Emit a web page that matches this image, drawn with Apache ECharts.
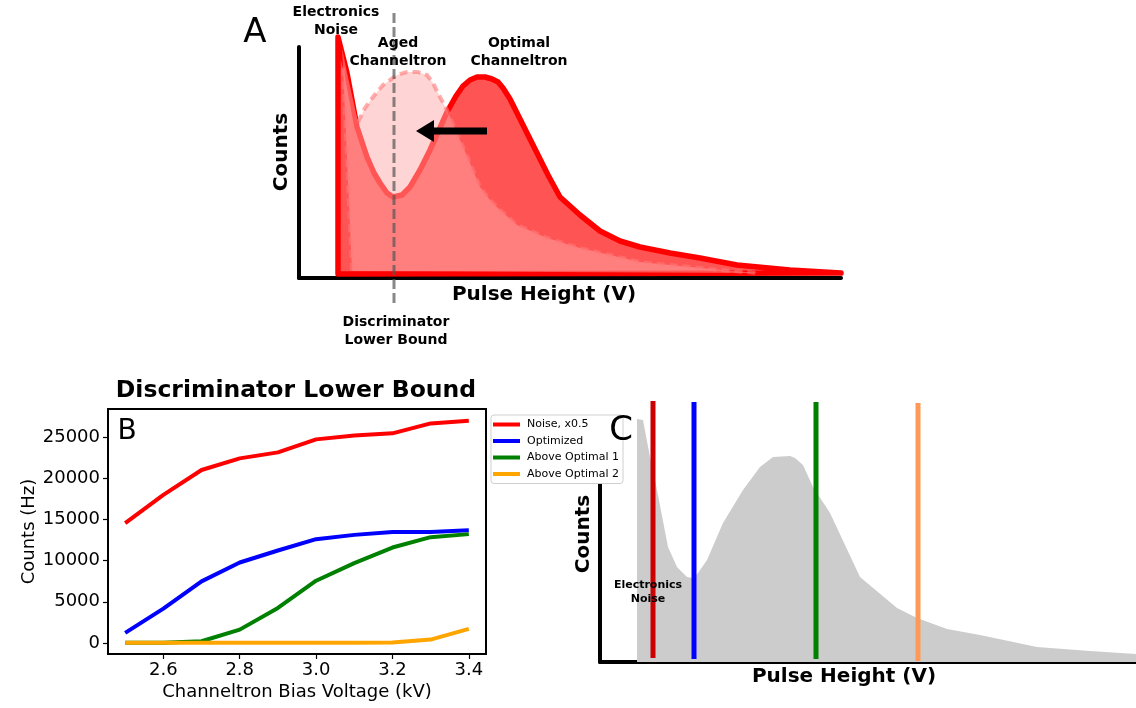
<!DOCTYPE html>
<html><head><meta charset="utf-8">
<script src="https://cdn.jsdelivr.net/npm/echarts@6/dist/echarts.min.js"></script>
<style>html,body{margin:0;padding:0;background:#fff}#c{width:1136px;height:708px}</style>
</head><body><div id="c"></div>
<script>
// ---------- Panel B data ----------
const biasVoltage = [2.5, 2.6, 2.7, 2.8, 2.9, 3.0, 3.1, 3.2, 3.3, 3.4];
const noiseHalf = [14560, 18000, 21030, 22450, 23180, 24760, 25240, 25490, 26700, 27020];
const optimized = [1210, 4160, 7480, 9780, 11240, 12620, 13140, 13500, 13500, 13710];
const aboveOptimal1 = [0, 0, 200, 1610, 4250, 7560, 9700, 11600, 12860, 13230];
const aboveOptimal2 = [0, 0, 0, 0, 0, 0, 0, 50, 400, 1700];
const seriesNames = ['Noise, x0.5', 'Optimized', 'Above Optimal 1', 'Above Optimal 2'];
const seriesColors = ['#ff0000', '#0000ff', '#008000', '#ffa500'];
const bXTicks = [2.6, 2.8, 3.0, 3.2, 3.4];
const bYTicks = [0, 5000, 10000, 15000, 20000, 25000];

// ---------- Panel A schematic spectra (arbitrary units) ----------
const optimalX = [39, 39, 48, 58, 68, 75, 81, 88, 94, 103, 111, 121, 131, 140, 148, 157, 164, 171, 178, 186, 193, 199, 204, 211, 218, 228, 238, 249, 261, 281, 301, 321, 341, 371, 401, 438, 491, 542];
const optimalY = [4, 241, 205, 151, 121, 105, 95, 85, 81, 83, 91, 108, 128, 148, 166, 182, 192, 198, 201, 201, 199, 196, 190, 179, 165, 145, 125, 103, 81, 63, 47, 37, 31, 25, 20, 13, 8, 5];
const agedX = [53, 44, 43, 48, 59, 66, 74, 84, 98, 108, 119, 128, 134, 141, 148, 161, 171, 181, 191, 201, 218, 248, 281, 311, 341, 381, 421, 461];
const agedY = [7, 211, 230, 205, 156, 170, 181, 193, 203, 206, 206, 203, 195, 181, 168, 138, 115, 91, 78, 68, 53, 40, 30, 23, 16, 12, 8, 5];
const discriminatorA = [95, 95];
const discriminatorAY = [265, -28];
const arrowFrom = [188, 147];
const arrowTo = [117, 147];

// ---------- Panel C data ----------
const spectrumX = [37, 37, 43, 50, 57, 68, 77, 87, 93, 98, 107, 123, 143, 160, 173, 190, 195, 203, 213, 230, 260, 297, 317, 347, 380, 437, 490, 536];
const spectrumY = [0, 243, 242, 205, 172, 115, 95, 85, 84, 89, 102, 139, 172, 195, 205, 206, 204, 197, 175, 149, 85, 54, 44, 33, 27, 15, 11, 8];
const thresholdX = [53, 94, 216, 318];
const thresholdBottom = [4, 3, 3, 1];
const thresholdTop = [261, 260, 260, 259];
const thresholdColors = ['#cc0000', '#0000ff', '#008000', '#ff9955'];

const FF = 'DejaVu Sans';
const chart = echarts.init(document.getElementById('c'), null, {renderer: 'canvas'});

const zip = (xs, ys) => xs.map((x, i) => [x, ys[i]]);

const bData = [noiseHalf, optimized, aboveOptimal1, aboveOptimal2];

const series = [];
// Panel A: optimal channeltron polygon
series.push({
  type: 'custom', xAxisIndex: 0, yAxisIndex: 0, clip: false, silent: true, z: 2,
  data: [[optimalX[0], optimalY[0]]],
  renderItem: (params, api) => ({
    type: 'polygon',
    shape: {points: optimalX.map((x, i) => api.coord([x, optimalY[i]]))},
    style: {fill: 'rgba(255,0,0,0.67)', stroke: '#ff0000', lineWidth: 5.5, lineJoin: 'round'}
  })
});
// Panel A: aged channeltron polygon
series.push({
  type: 'custom', xAxisIndex: 0, yAxisIndex: 0, clip: false, silent: true, z: 3,
  data: [[agedX[0], agedY[0]]],
  renderItem: (params, api) => {
    const pts = agedX.map((x, i) => api.coord([x, agedY[i]]));
    const strokeStyle = {fill: null, stroke: 'rgba(255,120,120,0.6)', lineWidth: 4, lineDash: [8, 5]};
    return {
      type: 'group',
      children: [
        {type: 'polygon', shape: {points: pts}, style: {fill: 'rgba(255,170,170,0.5)'}},
        {type: 'polyline', shape: {points: pts.slice(0, 2)}, style: strokeStyle},
        {type: 'polyline', shape: {points: pts.slice(4)}, style: strokeStyle}
      ]
    };
  }
});
// Panel A: discriminator dashed line
series.push({
  type: 'line', xAxisIndex: 0, yAxisIndex: 0, clip: false, silent: true, z: 5,
  symbol: 'none', data: zip(discriminatorA, discriminatorAY),
  lineStyle: {color: 'rgba(85,85,85,0.7)', width: 3, type: [10, 4]}
});
// Panel A: arrow
series.push({
  type: 'custom', xAxisIndex: 0, yAxisIndex: 0, clip: false, silent: true, z: 6,
  data: [arrowFrom],
  renderItem: (params, api) => {
    const a = api.coord(arrowFrom), b = api.coord(arrowTo);
    return {
      type: 'group',
      children: [
        {type: 'rect', shape: {x: b[0] + 14, y: b[1] - 3.5, width: a[0] - b[0] - 14, height: 7}, style: {fill: '#000'}},
        {type: 'polygon', shape: {points: [[b[0], b[1]], [b[0] + 18, b[1] - 11], [b[0] + 18, b[1] + 11]]}, style: {fill: '#000'}}
      ]
    };
  }
});
// Panel B lines
bData.forEach((vals, k) => {
  series.push({
    name: seriesNames[k], type: 'line', xAxisIndex: 1, yAxisIndex: 1,
    symbol: 'none', data: zip(biasVoltage, vals), z: 3,
    lineStyle: {color: seriesColors[k], width: 4}, itemStyle: {color: seriesColors[k]}
  });
});
// Panel C spectrum
series.push({
  type: 'line', xAxisIndex: 2, yAxisIndex: 2, clip: false, silent: true, z: 2,
  symbol: 'none', data: zip(spectrumX, spectrumY),
  lineStyle: {width: 0}, areaStyle: {color: '#cccccc', opacity: 1}
});
// Panel C thresholds
thresholdX.forEach((x, k) => {
  series.push({
    type: 'line', xAxisIndex: 2, yAxisIndex: 2, clip: false, silent: true, z: 3,
    symbol: 'none', data: [[x, thresholdBottom[k]], [x, thresholdTop[k]]],
    lineStyle: {color: thresholdColors[k], width: 5, cap: 'butt'}
  });
});

const plainAxis = (grid, min, max) => ({
  type: 'value', gridIndex: grid, min: min, max: max,
  axisLine: {show: true, onZero: false, lineStyle: {color: '#000', width: 4}},
  axisTick: {show: false}, axisLabel: {show: false}, splitLine: {show: false}
});

const txt = (text, x, y, size, bold, extra) => ({
  type: 'text', x: x, y: y, z: 100,
  style: Object.assign({text: text, fontFamily: FF, fontSize: size, fontWeight: bold ? 'bold' : 'normal',
    fill: '#000', align: 'center', verticalAlign: 'middle'}, extra || {})
});

const option = {
  animation: false,
  backgroundColor: '#fff',
  grid: [
    {left: 299, top: 47, width: 542, height: 231, outerBoundsMode: 'none', containLabel: false},
    {left: 108, top: 409, width: 378, height: 245, show: true, borderColor: '#000', borderWidth: 2, outerBoundsMode: 'none', containLabel: false},
    {left: 600, top: 420, width: 536, height: 242, outerBoundsMode: 'none', containLabel: false}
  ],
  xAxis: [
    plainAxis(0, 0, 542),
    {
      type: 'value', gridIndex: 1, min: 2.455, max: 3.445,
      axisLine: {show: true, onZero: false, lineStyle: {color: '#000', width: 2}},
      axisTick: {show: true, customValues: bXTicks, length: 5, lineStyle: {color: '#000', width: 1.2}},
      axisLabel: {show: true, customValues: bXTicks, formatter: v => Number(v).toFixed(1), fontFamily: FF, fontSize: 18, color: '#000', margin: 7},
      splitLine: {show: false},
      name: 'Channeltron Bias Voltage (kV)', nameLocation: 'middle', nameGap: 29,
      nameTextStyle: {fontFamily: FF, fontSize: 18, color: '#000'}
    },
    plainAxis(2, 0, 536)
  ],
  yAxis: [
    plainAxis(0, 0, 231),
    {
      type: 'value', gridIndex: 1, min: -1355, max: 28455,
      axisLine: {show: true, onZero: false, lineStyle: {color: '#000', width: 2}},
      axisTick: {show: true, customValues: bYTicks, length: 5, lineStyle: {color: '#000', width: 1.2}},
      axisLabel: {show: true, customValues: bYTicks, formatter: v => String(Math.round(v)), fontFamily: FF, fontSize: 18, color: '#000', margin: 8},
      splitLine: {show: false},
      name: 'Counts (Hz)', nameLocation: 'middle', nameGap: 70, nameRotate: 90,
      nameTextStyle: {fontFamily: FF, fontSize: 18, color: '#000'}
    },
    plainAxis(2, 0, 242)
  ],
  legend: {
    data: seriesNames, orient: 'vertical', left: 491, top: 415,
    padding: [3, 4, 3, 2], itemWidth: 27, itemHeight: 4, itemGap: 3.5, icon: 'rect',
    backgroundColor: '#fff', borderColor: '#cfcfcf', borderWidth: 1, borderRadius: 3,
    textStyle: {fontFamily: FF, fontSize: 11, color: '#000', lineHeight: 13, padding: [0, 0, 0, 2]},
    selectedMode: false
  },
  series: series,
  graphic: [
    txt('A', 255, 33, 34, false),
    txt('B', 127, 432, 28, false),
    txt('C', 621, 431, 34, false),
    txt('Electronics\nNoise', 336, 21, 14, true, {lineHeight: 18}),
    txt('Aged\nChanneltron', 398, 52, 14, true, {lineHeight: 18}),
    txt('Optimal\nChanneltron', 519, 52, 14, true, {lineHeight: 18}),
    txt('Discriminator\nLower Bound', 396, 331, 14, true, {lineHeight: 18}),
    txt('Pulse Height (V)', 544, 295, 20, true),
    Object.assign(txt('Counts', 282, 152, 20, true), {rotation: Math.PI / 2}),
    txt('Discriminator Lower Bound', 296, 391, 23.5, true),
    txt('Electronics\nNoise', 648, 592, 11, true, {lineHeight: 14}),
    txt('Pulse Height (V)', 844, 677, 20, true),
    Object.assign(txt('Counts', 584, 534, 20, true), {rotation: Math.PI / 2})
  ]
};
chart.setOption(option);
</script>
</body></html>
